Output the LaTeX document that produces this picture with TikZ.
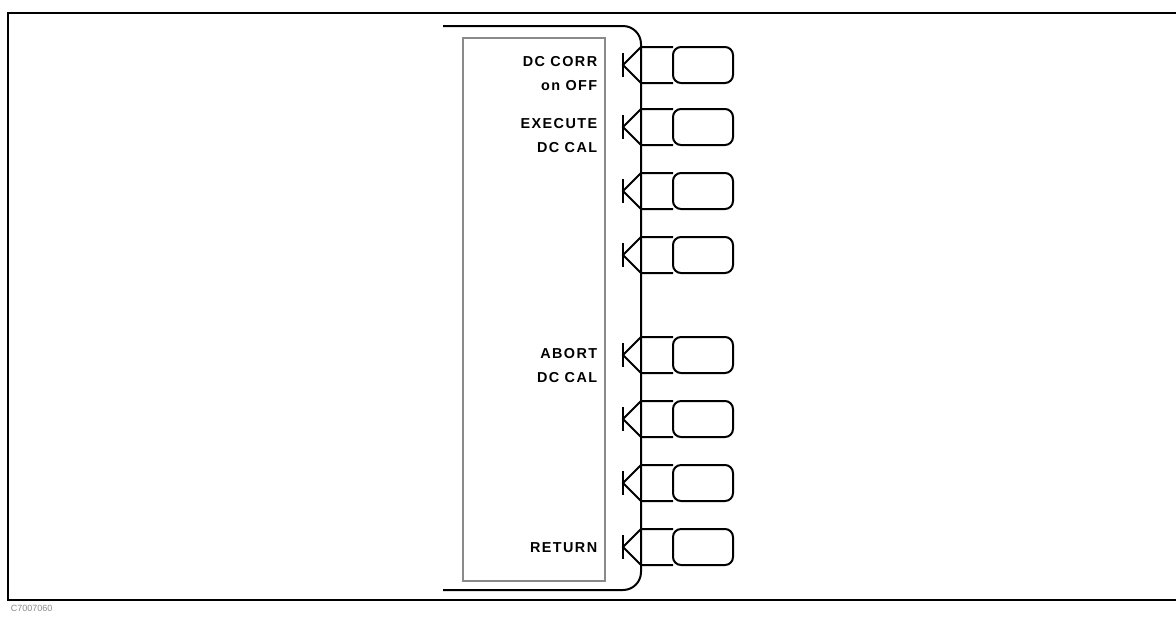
\documentclass[tikz,border=0pt]{standalone}
\usepackage{fontspec}
\setmainfont{Liberation Sans}
\usepackage{xcolor}
\usepackage{tikz}
\definecolor{framegray}{HTML}{8A8A8A}
\newfontfamily\keyfont[LetterSpace=10]{Liberation Sans}
\tikzset{
  keycap/.style={draw, line width=1pt, rounded corners=4pt, outer sep=0pt,
                 minimum width=30pt, minimum height=18pt, inner sep=0pt},
  keylabel/.style={anchor=north east, align=right, inner sep=0pt,
                   font=\keyfont\fontsize{7.2}{12}\selectfont\bfseries}
}
\begin{document}
\begin{tikzpicture}[x=0.5pt, y=-0.5pt, line width=0.8pt]
  \useasboundingbox (0,0) rectangle (1176,618);
  % outer frame
  \draw (1176,13) -- (8,13) -- (8,600) -- (1176,600);
  \node[anchor=north west, inner sep=0pt, font=\fontsize{4.5}{5}\selectfont,
        text=framegray] (code) at (10,604) {C7007060};
  % screen outline and softkey labels area
  \draw[line width=1pt, rounded corners=9pt]
    (443,26) -- (641,26) -- (641,590) -- (443,590);
  \draw[framegray, line width=0.6pt] (463,38) rectangle (605,581);
  \foreach \i/\y in {1/65, 2/127, 3/191, 4/255, 5/355, 6/419, 7/483, 8/547}{
    \node[keycap] (cap\i) at (703,\y) {};
    \coordinate (t\i) at (641,\y-18);
    \coordinate (b\i) at (641,\y+18);
    \coordinate (tip\i) at (623,\y);
    \draw[line width=1pt] (cap\i.north west) -- (t\i) -- (tip\i) -- (b\i)
      -- (cap\i.south west);
    \draw[line width=1pt] (623,\y-12) -- (623,\y+12);}
  \node[keylabel] (lab1) at (598,56) {DC CORR\\on OFF};
  \node[keylabel] (lab2) at (598,118) {EXECUTE\\DC CAL};
  \node[keylabel] (lab5) at (598,348) {ABORT\\DC CAL};
  \node[keylabel] (lab8) at (598,542) {RETURN};
\end{tikzpicture}
\end{document}
